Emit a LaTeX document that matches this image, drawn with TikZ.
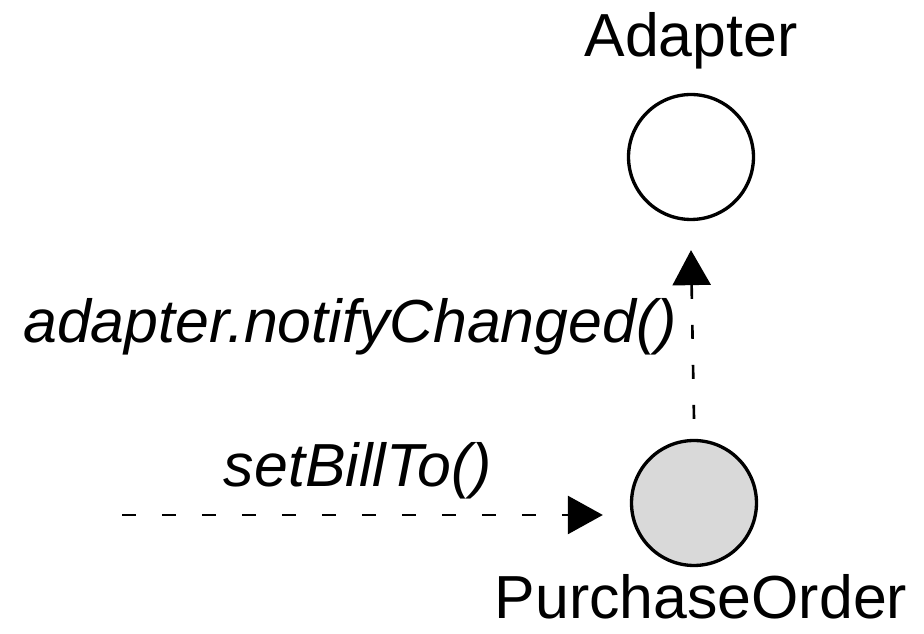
\documentclass[tikz,border=0pt]{standalone}
\usepackage{fontspec}
\setmainfont{Liberation Sans}
\usetikzlibrary{arrows.meta}

\tikzset{
  obj/.style={circle, draw, line width=1.9pt, minimum size=2.5cm, inner sep=0pt},
  call/.style={line width=1.5pt, dash pattern=on 0.28cm off 0.52cm,
    -{Triangle[length=0.7cm,width=0.76cm]}},
  objname/.style={anchor=base, inner sep=0pt, font=\fontsize{34.6}{40}\selectfont},
  msg/.style={anchor=base, inner sep=0pt, font=\fontsize{34.6}{40}\selectfont\itshape}
}

\begin{document}
\begin{tikzpicture}[x=0.02cm,y=-0.02cm]
        \useasboundingbox (0,0) rectangle (924,634);
        % Objects
        \node[obj] (adapter) at (691,157) {};
        \node[obj, fill=gray!30] (po) at (694,503) {};
        \node[objname] (adaptername) at (691,57) {Adapter};
        \node[objname] (poname) at (701,619) {PurchaseOrder};
        % Messages
        \coordinate (caller) at (122,515);
        \draw[call, shorten >=0.54cm] (caller) -- (caller -| po.west);
        \draw[call] ([yshift=0.4cm]po.north) -- ([yshift=-0.58cm]adapter.south);
        \node[msg] (notify) at (350,343) {adapter.notifyChanged()};
        \node[msg] (setbill) at (358,487) {setBillTo()};
    \end{tikzpicture}
\end{document}
